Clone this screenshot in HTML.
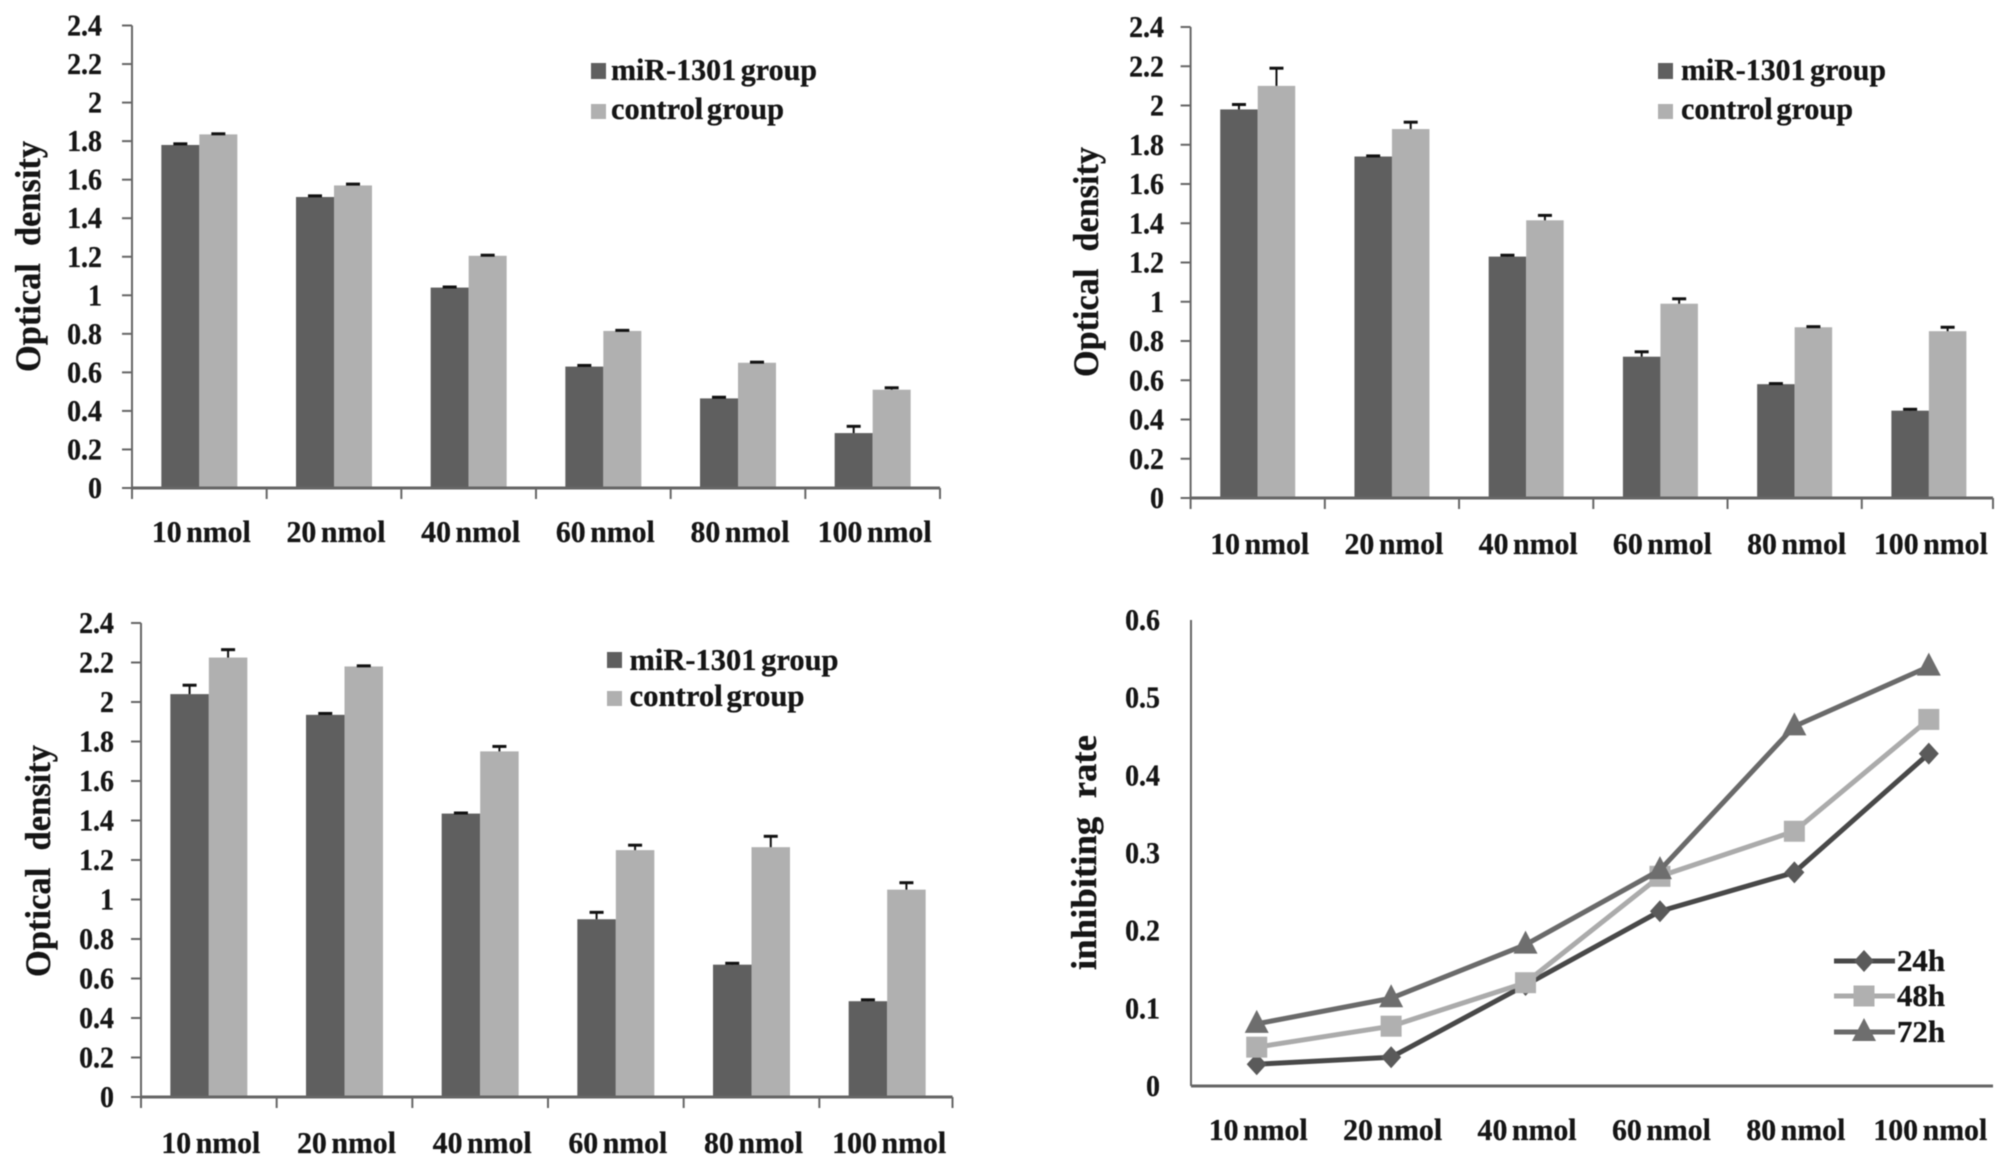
<!DOCTYPE html>
<html lang="en">
<head>
<meta charset="utf-8">
<title>Optical density and inhibiting rate charts</title>
<style>
html,body{margin:0;padding:0;background:#fff;width:2008px;height:1161px;overflow:hidden}
svg{display:block;filter:blur(.6px)}
text{font-family:"Liberation Serif",serif;font-weight:bold;fill:#151515;stroke:#151515;stroke-width:.3px}
</style>
</head>
<body>
<svg id="chart" width="2008" height="1161" viewBox="0 0 2008 1161" xmlns="http://www.w3.org/2000/svg">
<g id="p1"></g>
<g id="p2"></g>
<g id="p3"></g>
<g id="p4"></g>
</svg>
<script>
var categories = ['10 nmol','20 nmol','40 nmol','60 nmol','80 nmol','100 nmol'];
var densityTicks = ['0','0.2','0.4','0.6','0.8','1','1.2','1.4','1.6','1.8','2','2.2','2.4'];
var rateTicks = ['0','0.1','0.2','0.3','0.4','0.5','0.6'];
var seriesNames = ['miR-1301 group','control group'];
var lineNames = ['24h','48h','72h'];

var topLeftMir = [1.78,1.51,1.04,0.63,0.465,0.285];
var topLeftControl = [1.835,1.57,1.205,0.815,0.65,0.51];
var topLeftMirErr = [0.006,0.006,0.003,0.006,0.006,0.035];
var topLeftControlErr = [0.003,0.007,0.003,0.003,0.003,0.01];

var topRightMir = [1.98,1.74,1.23,0.72,0.58,0.445];
var topRightControl = [2.1,1.88,1.415,0.99,0.87,0.85];
var topRightMirErr = [0.025,0.003,0.007,0.025,0.003,0.007];
var topRightControlErr = [0.09,0.035,0.025,0.025,0.003,0.02];

var bottomLeftMir = [2.04,1.935,1.435,0.9,0.67,0.485];
var bottomLeftControl = [2.225,2.18,1.75,1.25,1.265,1.05];
var bottomLeftMirErr = [0.045,0.007,0.003,0.035,0.007,0.007];
var bottomLeftControlErr = [0.04,0.003,0.025,0.025,0.055,0.035];

var rate24h = [0.028,0.037,0.13,0.225,0.275,0.428];
var rate48h = [0.05,0.077,0.133,0.27,0.328,0.472];
var rate72h = [0.08,0.113,0.182,0.278,0.463,0.54];

var NS = 'http://www.w3.org/2000/svg';
var DARK = '#5f5f5f', LIGHT = '#b0b0b0', AXIS = '#666666';

function make(parent, tag, props, content) {
  var el = document.createElementNS(NS, tag);
  for (var k in props) el.setAttribute(k, props[k]);
  if (content !== undefined) el.textContent = content;
  parent.appendChild(el);
  return el;
}
function linearScale(maxValue, y0, yTop) {
  return function (v) { return y0 - (v / maxValue) * (y0 - yTop); };
}
function bandScale(count, xLeft, xRight) {
  var step = (xRight - xLeft) / count;
  return {
    step: step,
    center: function (i) { return xLeft + step * (i + 0.5); }
  };
}
function drawYTitle(parent, txt, xBase, yTop, yBottom) {
  var mid = (yTop + yBottom) / 2;
  var el = make(parent, 'text', {
    x: 0, y: 0, 'font-size': 36, 'text-anchor': 'middle',
    textLength: yBottom - yTop, lengthAdjust: 'spacingAndGlyphs',
    'xml:space': 'preserve', style: 'white-space:pre',
    transform: 'translate(' + xBase + ',' + mid + ') rotate(-90)'
  }, txt);
  
  
}
function drawYAxis(parent, ticks, maxValue, xAxis, y0, yTop, labelRight, showTicks) {
  var y = linearScale(maxValue, y0, yTop);
  var axis = make(parent, 'line', { x1: xAxis, x2: xAxis, y1: yTop, y2: y0, stroke: AXIS, 'stroke-width': 2 });
  
  
  ticks.forEach(function (t) {
    var v = parseFloat(t);
    if (showTicks) {
      var tick = make(parent, 'line', { x1: xAxis - 10, x2: xAxis, y1: y(v), y2: y(v), stroke: AXIS, 'stroke-width': 2 });
      
      
    }
    var lab = make(parent, 'text', { x: labelRight, y: y(v) + 10, 'font-size': 31, 'text-anchor': 'end' }, t);
    lab.setAttribute('textLength', (lab.getComputedTextLength() * 0.9).toFixed(1));
    lab.setAttribute('lengthAdjust', 'spacingAndGlyphs');
    
    
  });
}
function drawXAxis(parent, xLeft, bandRight, axisStart, axisEnd, y0, labelBase, showTicks, labelShift) {
  var band = bandScale(categories.length, xLeft, bandRight);
  var axis = make(parent, 'line', { x1: axisStart, x2: axisEnd, y1: y0, y2: y0, stroke: AXIS, 'stroke-width': 3 });
  
  
  categories.forEach(function (c, i) {
    if (showTicks) {
      var tx = xLeft + band.step * i;
      var tick = make(parent, 'line', { x1: tx, x2: tx, y1: y0, y2: y0 + 11, stroke: AXIS, 'stroke-width': 2 });
      
      
    }
    var lab = make(parent, 'text', {
      x: band.center(i) + labelShift, y: labelBase, 'font-size': 31, 'text-anchor': 'middle',
      'word-spacing': -3, textLength: c.length > 7 ? 114 : 99, lengthAdjust: 'spacingAndGlyphs'
    }, c);
    
    
  });
  if (showTicks) {
    var last = make(parent, 'line', { x1: axisEnd, x2: axisEnd, y1: y0, y2: y0 + 11, stroke: AXIS, 'stroke-width': 2 });
    
    
  }
}
function drawBars(parent, values, errors, fill, side, xLeft, xRight, y0, yTop, barW) {
  var band = bandScale(values.length, xLeft, xRight);
  var y = linearScale(2.4, y0, yTop);
  values.forEach(function (v, i) {
    var cx = band.center(i);
    var x = side < 0 ? cx - barW : cx;
    var bar = make(parent, 'rect', { x: x, y: y(v), width: barW, height: y0 - y(v), fill: fill });
    
    
    var ex = x + barW / 2;
    var top = y(v + errors[i]);
    var stem = make(parent, 'line', { x1: ex, x2: ex, y1: y(v), y2: top, stroke: '#111', 'stroke-width': 2 });
    
    
    var cap = make(parent, 'line', { x1: ex - 7, x2: ex + 7, y1: top, y2: top, stroke: '#111', 'stroke-width': 3 });
    
    
  });
}
function drawBarLegend(parent, swatchX, swatchY1, swatchY2, textX, base1, base2, len1, len2) {
  var s1 = make(parent, 'rect', { x: swatchX, y: swatchY1, width: 15, height: 16, fill: DARK });
  
  
  var t1 = make(parent, 'text', { x: textX, y: base1, 'font-size': 31, 'word-spacing': -3, textLength: len1, lengthAdjust: 'spacingAndGlyphs' }, seriesNames[0]);
  
  
  var s2 = make(parent, 'rect', { x: swatchX, y: swatchY2, width: 15, height: 15, fill: LIGHT });
  
  
  var t2 = make(parent, 'text', { x: textX, y: base2, 'font-size': 31, 'word-spacing': -4, textLength: len2, lengthAdjust: 'spacingAndGlyphs' }, seriesNames[1]);
  
  
}
function drawBarPanel(id, g, mir, ctrl, mirErr, ctrlErr) {
  var p = document.getElementById(id);
  drawBars(p, mir, mirErr, DARK, -1, g.xLeft, g.bandRight, g.y0, g.yTop, g.barW);
  drawBars(p, ctrl, ctrlErr, LIGHT, 1, g.xLeft, g.bandRight, g.y0, g.yTop, g.barW);
  drawYAxis(p, densityTicks, 2.4, g.xLeft, g.y0, g.yTop, g.labelRight, true);
  drawXAxis(p, g.xLeft, g.bandRight, g.xLeft - 1, g.axisEnd, g.y0, g.labelBase, true, 2);
  drawYTitle(p, 'Optical  density', g.titleX, g.titleTop, g.titleBottom);
  drawBarLegend(p, g.swatchX, g.sw1, g.sw2, g.textX, g.base1, g.base2, g.len1, g.len2);
}
function marker(parent, kind, x, y, fill) {
  var el;
  if (kind === 'diamond') {
    el = make(parent, 'polygon', { points: [x, y - 11, x + 10, y, x, y + 11, x - 10, y].join(' '), fill: fill });
  } else if (kind === 'square') {
    el = make(parent, 'rect', { x: x - 10.5, y: y - 10.5, width: 21, height: 21, fill: fill });
  } else {
    el = make(parent, 'polygon', { points: [x, y - 14, x + 12, y + 9, x - 12, y + 9].join(' '), fill: fill });
  }
  
  
}
function drawLine(parent, values, kind, lineColor, markerColor, band, y) {
  var pts = values.map(function (v, i) { return band.center(i) + ',' + y(v); }).join(' ');
  var line = make(parent, 'polyline', { points: pts, fill: 'none', stroke: lineColor, 'stroke-width': 5, 'stroke-linejoin': 'round' });
  
  
  values.forEach(function (v, i) { marker(parent, kind, band.center(i), y(v), markerColor); });
}
function drawLineLegend(parent, idx, kind, lineColor, markerColor, yPos) {
  var l = make(parent, 'line', { x1: 1834, x2: 1895, y1: yPos, y2: yPos, stroke: lineColor, 'stroke-width': 5 });
  
  
  marker(parent, kind, 1864, yPos, markerColor);
  var t = make(parent, 'text', { x: 1897, y: yPos + 10, 'font-size': 31, textLength: 48, lengthAdjust: 'spacingAndGlyphs' }, lineNames[idx]);
  
  
}

drawBarPanel('p1', { xLeft: 132, bandRight: 940, axisEnd: 940, y0: 488, yTop: 25.5, barW: 38, labelRight: 102, labelBase: 542,
  titleX: 40, titleTop: 141, titleBottom: 372, swatchX: 591, sw1: 63, sw2: 104, textX: 611, base1: 80, base2: 119, len1: 206, len2: 173 },
  topLeftMir, topLeftControl, topLeftMirErr, topLeftControlErr);
drawBarPanel('p2', { xLeft: 1190.6, bandRight: 1996, axisEnd: 1993, y0: 498, yTop: 27, barW: 37.5, labelRight: 1164, labelBase: 554,
  titleX: 1098, titleTop: 147, titleBottom: 377, swatchX: 1658, sw1: 63, sw2: 104, textX: 1681, base1: 80, base2: 119, len1: 205, len2: 172 },
  topRightMir, topRightControl, topRightMirErr, topRightControlErr);
drawBarPanel('p3', { xLeft: 141, bandRight: 955, axisEnd: 952.5, y0: 1097, yTop: 623, barW: 38.5, labelRight: 114, labelBase: 1153,
  titleX: 50, titleTop: 745, titleBottom: 977, swatchX: 607, sw1: 652, sw2: 691, textX: 629.5, base1: 670, base2: 706, len1: 209, len2: 175 },
  bottomLeftMir, bottomLeftControl, bottomLeftMirErr, bottomLeftControlErr);

(function () {
  var p = document.getElementById('p4');
  var xLeft = 1189.5, bandRight = 1996, y0 = 1086, yTop = 620;
  var y = linearScale(0.6, y0, yTop);
  var band = bandScale(categories.length, xLeft, bandRight);
  drawYAxis(p, rateTicks, 0.6, 1191, y0, yTop, 1160, false);
  drawXAxis(p, xLeft, bandRight, 1191, 1993, y0, 1140, false, 1.5);
  drawYTitle(p, 'inhibiting  rate', 1096, 735, 970);
  drawLine(p, rate24h, 'diamond', '#484848', '#5a5a5a', band, y);
  drawLine(p, rate48h, 'square', '#ababab', '#b0b0b0', band, y);
  drawLine(p, rate72h, 'triangle', '#6a6a6a', '#6e6e6e', band, y);
  drawLineLegend(p, 0, 'diamond', '#484848', '#5a5a5a', 961);
  drawLineLegend(p, 1, 'square', '#ababab', '#b0b0b0', 996);
  drawLineLegend(p, 2, 'triangle', '#6a6a6a', '#6e6e6e', 1032);
})();
</script>
</body>
</html>
